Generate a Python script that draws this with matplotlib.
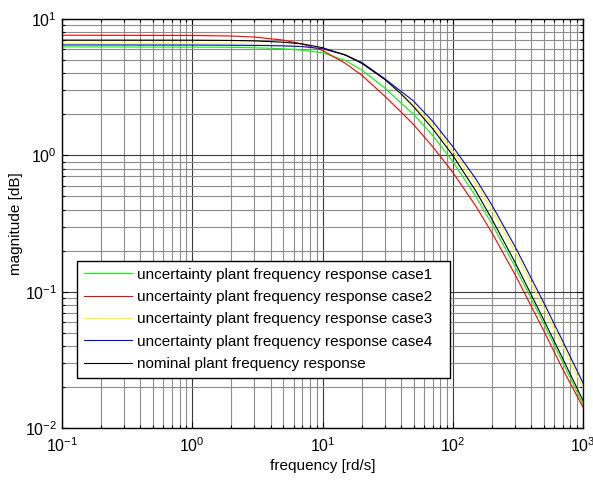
import numpy as np
import matplotlib
matplotlib.use("Agg")
import matplotlib.pyplot as plt
from matplotlib.ticker import LogLocator, NullFormatter

plt.rcParams['font.family'] = ['Liberation Sans', 'DejaVu Sans']
plt.rcParams['mathtext.fontset'] = 'custom'
plt.rcParams['mathtext.rm'] = 'Liberation Sans'
plt.rcParams['mathtext.it'] = 'Liberation Sans:italic'
plt.rcParams['mathtext.bf'] = 'Liberation Sans:bold'
plt.rcParams['axes.unicode_minus'] = False

# frequency points [rd/s]
freq = [0.1, 1, 2, 3, 5, 7, 10, 15, 20, 30, 40, 50, 70, 100, 150, 200, 300, 500, 700, 1000]

# magnitudes
case1 = [6.24, 6.22, 6.20, 6.15, 6.05, 5.90, 5.65, 4.95, 4.22, 3.12, 2.42, 2.00, 1.40, 0.90, 0.50, 0.313, 0.153, 0.058, 0.0301, 0.0149]
case2 = [7.60, 7.57, 7.50, 7.37, 7.00, 6.56, 5.88, 4.72, 3.87, 2.72, 2.08, 1.68, 1.16, 0.75, 0.425, 0.270, 0.134, 0.0516, 0.0269, 0.0142]
case3 = [6.60, 6.59, 6.57, 6.53, 6.42, 6.28, 6.05, 5.50, 4.80, 3.65, 2.86, 2.34, 1.65, 1.08, 0.62, 0.396, 0.197, 0.0762, 0.0397, 0.0197]
case4 = [6.45, 6.44, 6.42, 6.40, 6.35, 6.28, 6.05, 5.45, 4.80, 3.65, 2.95, 2.50, 1.78, 1.16, 0.674, 0.431, 0.215, 0.083, 0.0432, 0.0214]
nominal = [7.00, 6.99, 6.96, 6.91, 6.76, 6.56, 6.16, 5.43, 4.73, 3.61, 2.83, 2.28, 1.57, 1.00, 0.549, 0.340, 0.165, 0.062, 0.0322, 0.0159]

labels = ['uncertainty plant frequency response case1',
          'uncertainty plant frequency response case2',
          'uncertainty plant frequency response case3',
          'uncertainty plant frequency response case4',
          'nominal plant frequency response']
colors = ['#00ff00', '#ff0000', '#ffff00', '#0000ff', '#000000']

fig = plt.figure(figsize=(5.93, 4.80), dpi=100)
ax = fig.add_axes([62/593, 1-428/480, 521/593, 409/480])

for y, lab, c in zip([case1, case2, case3, case4, nominal], labels, colors):
    ax.plot(freq, y, color=c, lw=0.8, label=lab)

ax.set_xscale('log')
ax.set_yscale('log')
ax.set_xlim(0.1, 1000)
ax.set_ylim(0.01, 10)

ax.xaxis.set_major_locator(LogLocator(base=10, numticks=10))
ax.yaxis.set_major_locator(LogLocator(base=10, numticks=10))
ax.xaxis.set_minor_locator(LogLocator(base=10, subs=np.arange(2, 10), numticks=20))
ax.yaxis.set_minor_locator(LogLocator(base=10, subs=np.arange(2, 10), numticks=20))
ax.xaxis.set_minor_formatter(NullFormatter())
ax.yaxis.set_minor_formatter(NullFormatter())

ax.grid(True, which='major', color='#3a3a3a', lw=0.8)
ax.grid(True, which='minor', color='#8c8c8c', lw=0.8)
ax.set_axisbelow(True)

ax.tick_params(which='both', direction='in', top=True, right=True, labelsize=11.5, colors='black')
ax.tick_params(which='major', length=4, width=0.8)
ax.tick_params(which='minor', length=2, width=0.8)
ax.tick_params(axis='x', which='major', pad=5.8)
ax.tick_params(axis='y', which='major', pad=3.6)
for s in ax.spines.values():
    s.set_linewidth(1.0)
    s.set_color('black')

ax.set_xlabel('frequency [rd/s]', fontsize=11, labelpad=3)
ax.set_ylabel('magnitude [dB]', fontsize=11, labelpad=1.5)

leg = ax.legend(loc='lower left', bbox_to_anchor=(15/521, 50/409, 373/521, 116/409),
                mode='expand', fontsize=11, frameon=True, fancybox=False,
                edgecolor='black', framealpha=1, handlelength=3.16, handletextpad=0.33,
                labelspacing=0.55, borderpad=0.45, borderaxespad=0)
leg.get_frame().set_linewidth(1.0)

fig.savefig('out.png', dpi=100)
